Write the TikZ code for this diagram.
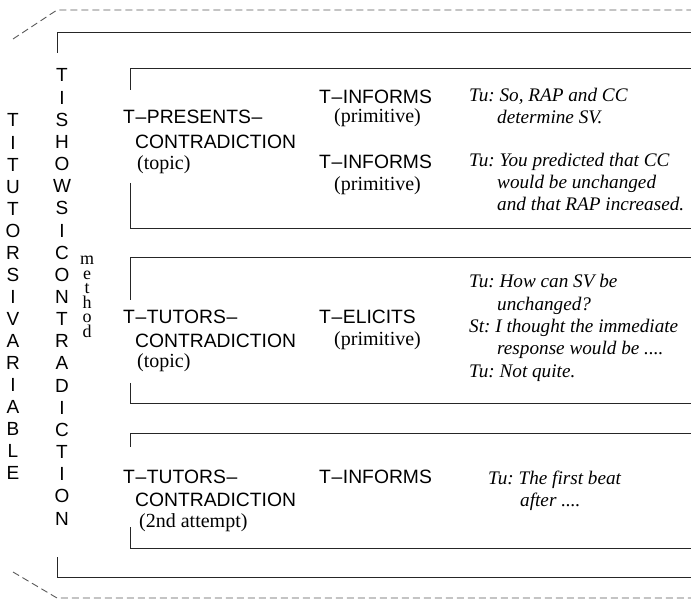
\documentclass[tikz,border=0pt]{standalone}
\usepackage{fontspec}
\setmainfont{Liberation Serif}
\setsansfont{Liberation Sans}
\newcommand{\dsh}{\kern0.6pt\textendash\kern0.6pt}
\frenchspacing

\begin{document}
\begin{tikzpicture}[x=1pt, y=-1pt,
    act/.style={anchor=base west, inner sep=0pt, font=\fontsize{19.3}{22}\sffamily},
    note/.style={anchor=base west, inner sep=0pt, font=\fontsize{20}{22}\selectfont},
    talk/.style={anchor=base west, inner sep=0pt, font=\fontsize{19.2}{22}\itshape},
    letter/.style={anchor=base, inner sep=0pt, font=\fontsize{19}{22}\sffamily},
    small/.style={anchor=north, inner sep=0pt, align=center, font=\fontsize{18}{14.5}\selectfont},
    bracket/.style={black!85, line width=0.9pt},
    edge/.style={black!65, line width=0.9pt, dash pattern=on 7pt off 4pt}]
    \useasboundingbox (0,0) rectangle (691,601);

    % Vora discontinua
    \draw[edge] (13,39) -- (57,10) -- (691,10);
    \draw[edge] (13,572) -- (57,598) -- (691,598);

    % Claudàtor exterior
    \draw[bracket] (57,53) -- (57,32) -- (691,32);
    \draw[bracket] (57,557) -- (57,577) -- (691,577);

    % Tres claudàtors interiors
    \draw[bracket] (130,90) -- (130,68) -- (691,68);
    \draw[bracket] (130,183) -- (130,228) -- (691,228);
    \draw[bracket] (130,300) -- (130,257) -- (691,257);
    \draw[bracket] (130,383) -- (130,403) -- (691,403);
    \draw[bracket] (130,447) -- (130,433) -- (691,433);
    \draw[bracket] (130,527) -- (130,548) -- (691,548);

    % Columnes verticals
    \foreach \c [count=\i from 0] in {T,I,T,U,T,O,R,S,I,V,A,R,I,A,B,L,E}
        \node[letter] (var-\i) at (13,{127+22.06*\i}) {\c};
    \foreach \c [count=\i from 0] in {T,I,S,H,O,W,S,I,C,O,N,T,R,A,D,I,C,T,I,O,N}
        \node[letter] (shw-\i) at (62,{82+22.15*\i}) {\c};
    \node[small] (mth) at (87,256) {m\\e\\t\\h\\o\\d};

    % Primer bloc
    \node[act] (pres) at (123,124) {T\dsh PRESENTS\dsh};
    \node[act] (pres2) at (135,149) {CONTRADICTION};
    \node[note] (pres3) at (137,170) {(topic)};
    \node[act] (inf-a) at (319,104) {T\dsh INFORMS};
    \node[note] (inf-a2) at (334,123) {(primitive)};
    \node[act] (inf-b) at (319,169) {T\dsh INFORMS};
    \node[note] (inf-b2) at (334,191) {(primitive)};
    \node[talk] (tu-a) at (469,102) {Tu: So, RAP and CC};
    \node[talk] (tu-a2) at (497,124) {determine SV.};
    \node[talk] (tu-b) at (469,167) {Tu: You predicted that CC};
    \node[talk] (tu-b2) at (497,189) {would be unchanged};
    \node[talk] (tu-b3) at (497,211) {and that RAP increased.};

    % Segon bloc
    \node[act] (tut) at (123,324) {T\dsh TUTORS\dsh};
    \node[act] (tut2) at (135,348) {CONTRADICTION};
    \node[note] (tut3) at (137,368) {(topic)};
    \node[act] (eli) at (319,324) {T\dsh ELICITS};
    \node[note] (eli2) at (334,346) {(primitive)};
    \node[talk] (tu-c) at (469,288) {Tu: How can SV be};
    \node[talk] (tu-c2) at (497,311) {unchanged?};
    \node[talk] (st-a) at (469,333) {St: I thought the immediate};
    \node[talk] (st-a2) at (497,355) {response would be ....};
    \node[talk] (tu-d) at (469,378) {Tu: Not quite.};

    % Tercer bloc
    \node[act] (tutb) at (123,483) {T\dsh TUTORS\dsh};
    \node[act] (tutb2) at (135,506) {CONTRADICTION};
    \node[note] (tutb3) at (139,527) {(2nd attempt)};
    \node[act] (inf-c) at (319,483) {T\dsh INFORMS};
    \node[talk] (tu-e) at (488,484) {Tu: The first beat};
    \node[talk] (tu-e2) at (520,506) {after ....};
\end{tikzpicture}
\end{document}
